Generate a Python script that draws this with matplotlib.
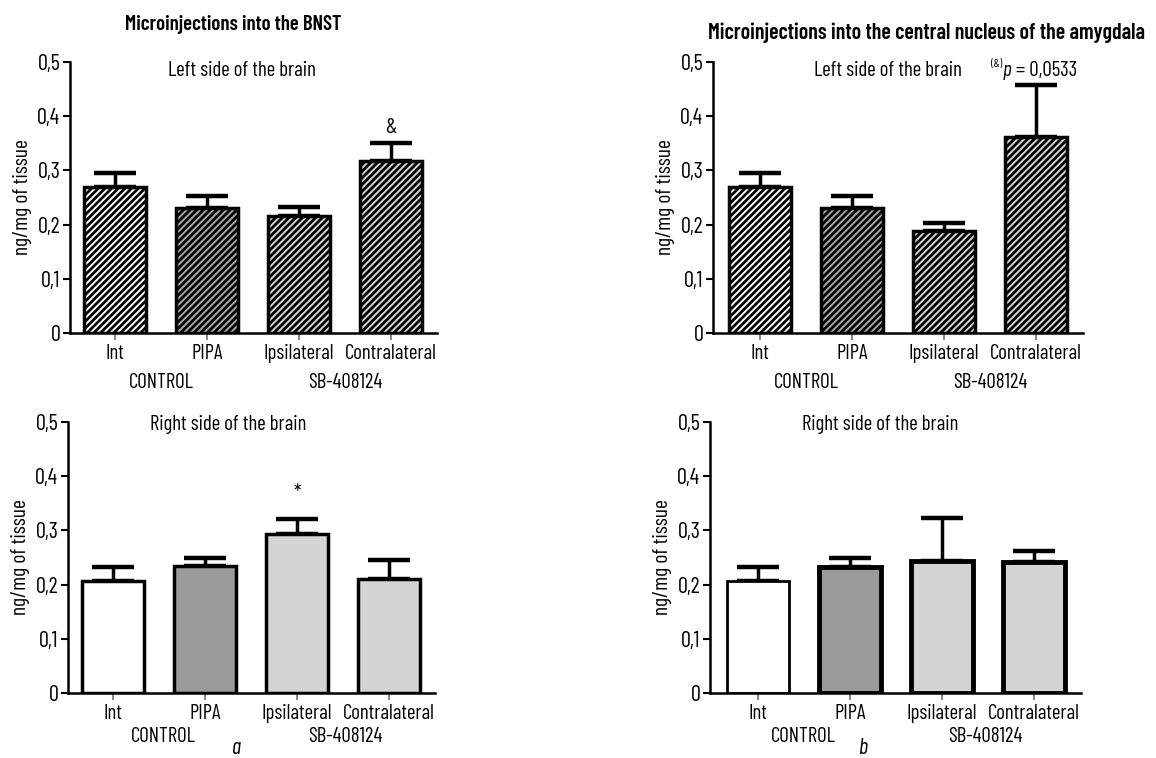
import matplotlib
matplotlib.use("Agg")
import matplotlib.pyplot as plt
from matplotlib import font_manager as fm

names = {f.name for f in fm.fontManager.ttflist}
fam = "DejaVu Sans"
FS = 12
for cand, size in [("Barlow Condensed", 15), ("Barlow Semi Condensed", 13.5),
                   ("Roboto Condensed", 13), ("IBM Plex Sans Condensed", 12.5)]:
    if cand in names:
        fam, FS = cand, size
        break
plt.rcParams['font.family'] = [fam, 'DejaVu Sans']
plt.rcParams['hatch.linewidth'] = 2.0

categories = ["Int", "PIPA", "Ipsilateral", "Contralateral"]
yticks = [0, 0.1, 0.2, 0.3, 0.4, 0.5]
ytick_labels = ["0", "0,1", "0,2", "0,3", "0,4", "0,5"]

bnst_left = [0.269, 0.231, 0.216, 0.317]
bnst_left_err = [0.026, 0.022, 0.016, 0.033]
cea_left = [0.269, 0.231, 0.188, 0.362]
cea_left_err = [0.026, 0.022, 0.015, 0.096]
bnst_right = [0.207, 0.234, 0.293, 0.210]
bnst_right_err = [0.025, 0.015, 0.028, 0.035]
cea_right = [0.207, 0.233, 0.243, 0.242]
cea_right_err = [0.025, 0.016, 0.079, 0.020]

fills_top = ["white", "#a6a6a6", "#d4d4d4", "#d4d4d4"]
fills_bot = ["white", "#9a9a9a", "#d4d4d4", "#d4d4d4"]

W, H = 1156, 758
fig = plt.figure(figsize=(W / 100, H / 100), dpi=100)

def make_ax(left, right, y0, ytop, c0):
    ax = fig.add_axes([left / W, 1 - y0 / H, (right - left) / W, (y0 - ytop) / H])
    ax.set_xlim((left - c0) / 92, (right - c0) / 92)
    ax.set_ylim(0, 0.5)
    return ax

def draw(ax, vals, errs, fills, hatch, lws):
    x = range(len(vals))
    for i in x:
        ax.bar(i, vals[i], width=0.68, color=fills[i], edgecolor="black",
               linewidth=lws[i], hatch=hatch, zorder=2)
        ax.errorbar(i, vals[i], yerr=[[0], [errs[i]]], fmt="none", ecolor="black",
                    elinewidth=2.5, capsize=15, capthick=3.2, zorder=1)
    for s in ["top", "right"]:
        ax.spines[s].set_visible(False)
    ax.spines["left"].set_linewidth(1.8)
    ax.spines["bottom"].set_linewidth(1.8)
    ax.set_yticks(yticks)
    ax.set_yticklabels(ytick_labels, fontsize=FS + 1)
    ax.set_xticks(list(x))
    ax.set_xticklabels(categories, fontsize=FS)
    ax.tick_params(axis="y", length=5, width=1.5, pad=2)
    ax.tick_params(axis="x", length=5, width=1.5, pad=3, colors="#888888", labelcolor="black")
    ax.set_ylabel("ng/mg of tissue", fontsize=FS + 0.5, labelpad=4)

ax1 = make_ax(70, 437, 333, 62, 115)
draw(ax1, bnst_left, bnst_left_err, fills_top, "/////", [2.5] * 4)
ax2 = make_ax(713, 1083, 333, 62, 760)
draw(ax2, cea_left, cea_left_err, fills_top, "/////", [2.5] * 4)
ax3 = make_ax(68, 435, 693, 422, 113)
draw(ax3, bnst_right, bnst_right_err, fills_bot, None, [2.5] * 4)
ax4 = make_ax(710, 1081, 693, 422, 758)
draw(ax4, cea_right, cea_right_err, fills_bot, None, [2.0, 3.5, 3.5, 3.5])

fig.text(233 / W, 1 - 25 / H, "Microinjections into the BNST", ha="center", va="center",
         fontsize=FS, fontweight="semibold")
fig.text(927 / W, 1 - 33 / H, "Microinjections into the central nucleus of the amygdala",
         ha="center", va="center", fontsize=FS + 0.8, fontweight="semibold")
fig.text(242 / W, 1 - 71 / H, "Left side of the brain", ha="center", va="center", fontsize=FS)
fig.text(888 / W, 1 - 71 / H, "Left side of the brain", ha="center", va="center", fontsize=FS)
fig.text(1002 / W, 1 - 64 / H, "(&)", ha="right", va="center", fontsize=FS * 0.55)
fig.text(1003 / W, 1 - 71 / H, "p", ha="left", va="center", fontsize=FS, style="italic")
fig.text(1016 / W, 1 - 71 / H, "= 0,0533", ha="left", va="center", fontsize=FS)
fig.text(228 / W, 1 - 425 / H, "Right side of the brain", ha="center", va="center", fontsize=FS)
fig.text(880 / W, 1 - 425 / H, "Right side of the brain", ha="center", va="center", fontsize=FS)

ax1.text(3, bnst_left[3] + bnst_left_err[3] + 0.012, "&", ha="center", va="bottom", fontsize=FS)
ax3.text(2, bnst_right[2] + bnst_right_err[2] + 0.03, "*", ha="center", va="bottom", fontsize=FS)

for (cx, cy, t) in [(161, 382, "CONTROL"), (345, 382, "SB-408124"),
                    (163, 736, "CONTROL"), (345, 736, "SB-408124"),
                    (806, 382, "CONTROL"), (990, 382, "SB-408124"),
                    (803, 736, "CONTROL"), (985, 736, "SB-408124")]:
    fig.text(cx / W, 1 - cy / H, t, ha="center", va="center", fontsize=FS)

fig.text(237 / W, 1 - 749 / H, "a", ha="center", va="center", fontsize=FS + 1, style="italic")
fig.text(863 / W, 1 - 749 / H, "b", ha="center", va="center", fontsize=FS + 1, style="italic")

fig.savefig("out.png", dpi=100)
